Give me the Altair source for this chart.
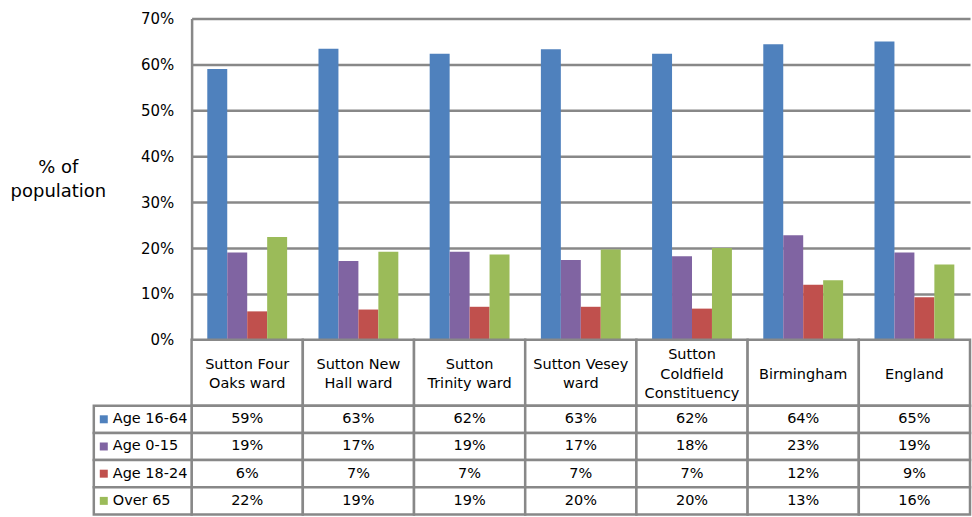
import altair as alt
import pandas as pd

# ---- data ----
categories = ["Sutton Four\nOaks ward", "Sutton New\nHall ward", "Sutton\nTrinity ward",
              "Sutton Vesey\nward", "Sutton\nColdfield\nConstituency", "Birmingham", "England"]
series = ["Age 16-64", "Age 0-15", "Age 18-24", "Over 65"]
colors = ["#4F81BD", "#8064A2", "#C0504D", "#9BBB59"]
age_16_64 = [59.0, 63.4, 62.3, 63.3, 62.3, 64.4, 65.0]
age_0_15 = [19.0, 17.2, 19.2, 17.4, 18.2, 22.8, 19.0]
age_18_24 = [6.2, 6.6, 7.2, 7.2, 6.8, 12.0, 9.3]
over_65 = [22.4, 19.2, 18.6, 19.7, 20.0, 13.0, 16.4]
y_ticks = [0, 10, 20, 30, 40, 50, 60, 70]
y_title = ["% of", "population"]

rows = []
for s, vals in zip(series, [age_16_64, age_0_15, age_18_24, over_65]):
    for c, v in zip(categories, vals):
        rows.append({"category": c, "series": s, "value": v})
df = pd.DataFrame(rows)

# header lines: one row per text line, with its offset from the cell's middle
hrows = []
for c in categories:
    parts = c.split("\n")
    n = len(parts)
    for i, p in enumerate(parts):
        hrows.append({"category": c, "line": p, "pos": (n - 1) / 2 - i})
header_df = pd.DataFrame(hrows)
cells_df = pd.DataFrame({"category": categories})
legend_df = pd.DataFrame({"series": series})

FONT = "DejaVu Sans"
GRID = "#888888"
LW = 2.5
FS = 14.5
HEADER_H = 66
LINE_H = 19.5

color = alt.Color("series:N", sort=series,
                  scale=alt.Scale(domain=series, range=colors), legend=None)

# ---- bar chart ----
bars = alt.Chart(df).mark_bar().encode(
    x=alt.X("category:N", sort=categories, axis=None,
            scale=alt.Scale(paddingInner=0.282, paddingOuter=0.141)),
    xOffset=alt.XOffset("series:N", sort=series),
    y=alt.Y("value:Q", scale=alt.Scale(domain=[0, 70], nice=False),
            axis=alt.Axis(values=y_ticks, labelExpr="datum.value + '%'",
                          title=y_title, titleAngle=0, titleAlign="center",
                          titleBaseline="middle", titleX=-134, titleY=149,
                          titleFontSize=18, titleFontWeight="normal", titleFont=FONT,
                          titleLineHeight=24, titleColor="black",
                          labelFont=FONT, labelFontSize=15, labelColor="black",
                          labelPadding=18, ticks=False,
                          gridColor=GRID, gridWidth=LW,
                          domainColor=GRID, domainWidth=LW)),
    color=color,
).properties(width=780, height=322)

# ---- table header (category names) ----
x_tab = alt.X("category:N", sort=categories, axis=None,
              scale=alt.Scale(paddingInner=0, paddingOuter=0))
half = HEADER_H / 2 / LINE_H
header_cells = alt.Chart(cells_df).mark_rect(
    fill="white", stroke=GRID, strokeWidth=LW).encode(x=x_tab)
header_text = alt.Chart(header_df).mark_text(
    font=FONT, fontSize=FS, baseline="middle", color="black", dy=2).encode(
    x=x_tab,
    y=alt.Y("pos:Q", scale=alt.Scale(domain=[-half, half], nice=False, zero=False), axis=None),
    text="line:N")
header = alt.layer(header_cells, header_text).properties(width=780, height=HEADER_H)

# ---- data table ----
y_tab = alt.Y("series:N", sort=series, axis=None,
              scale=alt.Scale(paddingInner=0, paddingOuter=0))
cells = alt.Chart(df).mark_rect(fill="white", stroke=GRID, strokeWidth=LW).encode(
    x=x_tab, y=y_tab)
vals = alt.Chart(df).transform_calculate(
    label="format(datum.value, '.0f') + '%'"
).mark_text(font=FONT, fontSize=FS, color="black").encode(
    x=x_tab, y=y_tab, text="label:N")
leg_cells = alt.Chart(legend_df).mark_rect(
    fill="white", stroke=GRID, strokeWidth=LW).encode(
    x=alt.value(-98), x2=alt.value(0), y=y_tab)
leg_sq = alt.Chart(legend_df).mark_square(size=64, opacity=1, filled=True).encode(
    x=alt.value(-88), y=y_tab, color=color)
leg_txt = alt.Chart(legend_df).mark_text(
    align="left", font=FONT, fontSize=FS, color="black").encode(
    x=alt.value(-79), y=y_tab, text="series:N")
table = alt.layer(cells, vals, leg_cells, leg_sq, leg_txt).properties(width=780, height=109)

chart = alt.vconcat(bars, header, table, spacing=0, bounds="flush").properties(
    padding={"left": 10, "top": 11, "right": 0, "bottom": 0}
).configure_view(strokeWidth=0)

chart.save("out.html", embed_options={"renderer": "svg", "actions": False})
